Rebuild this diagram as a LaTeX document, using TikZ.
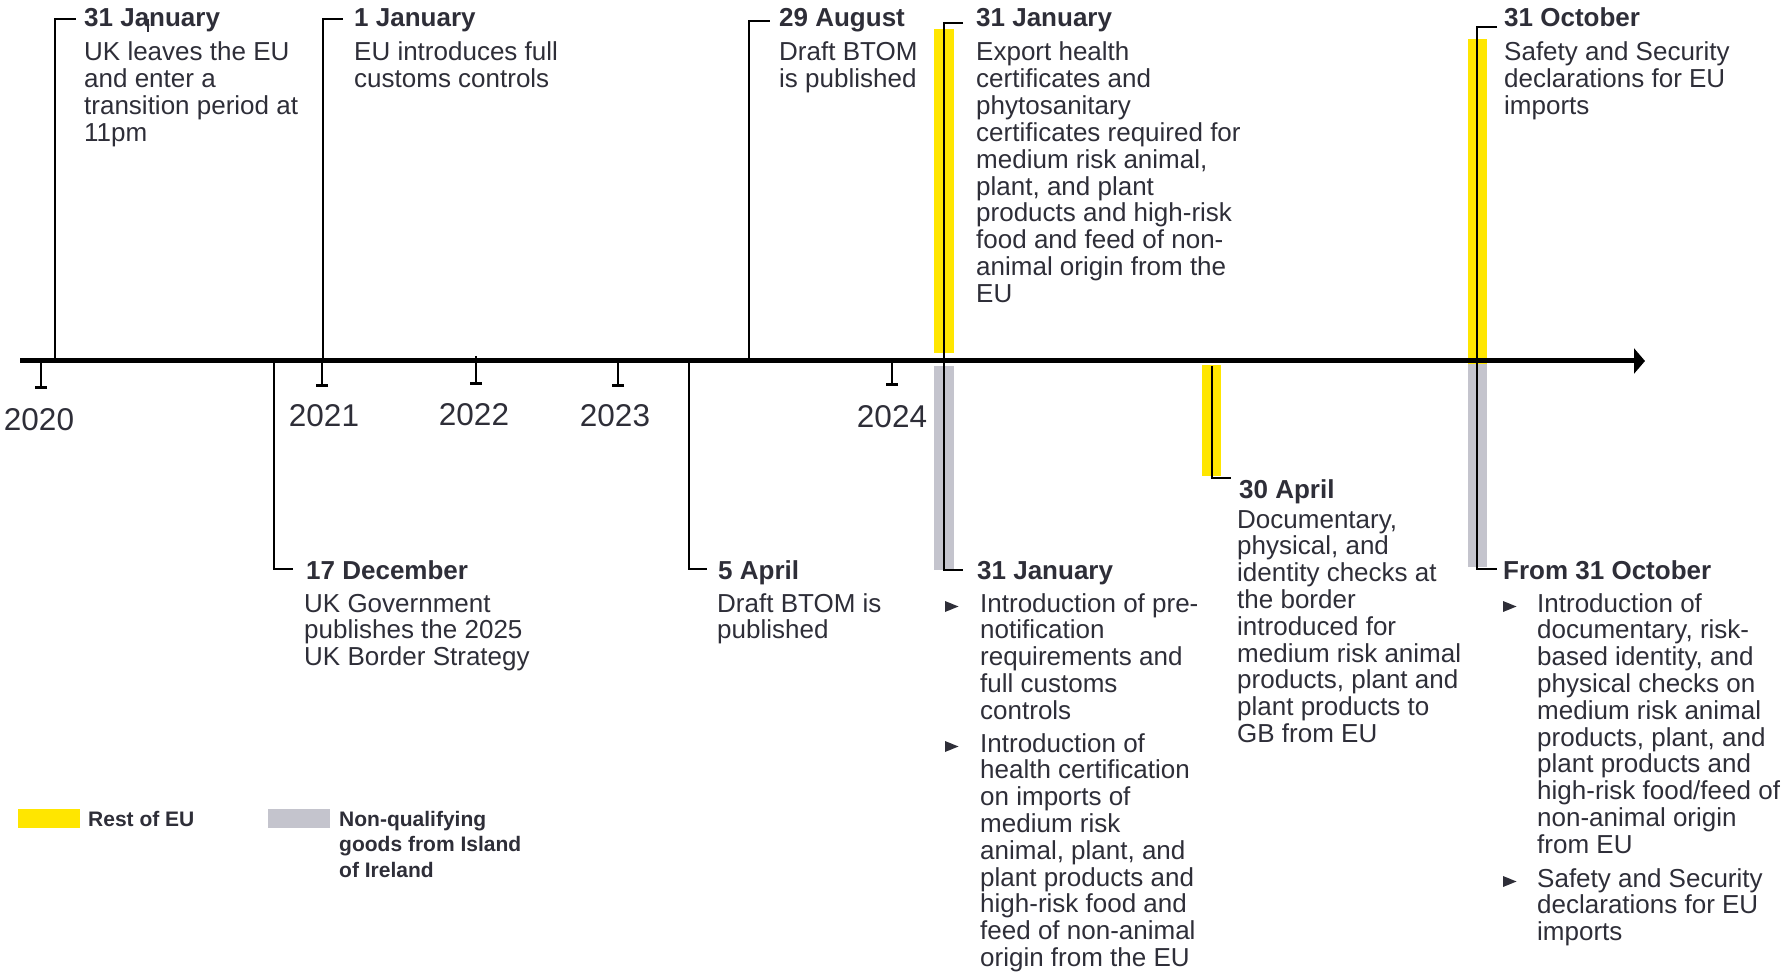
\documentclass[tikz,border=0pt]{standalone}
\usepackage{fontspec}
\setmainfont{Liberation Sans}
\usetikzlibrary{arrows.meta}

\definecolor{eyyellow}{HTML}{FFE600}
\definecolor{eygrey}{HTML}{C4C4CD}
\definecolor{ink}{HTML}{2E2E38}

% stacked lines whose baseline is the baseline of the first line
\newcommand{\txtlines}[1]{\begin{tabular}[t]{@{}l@{}}#1\end{tabular}}
% small right-pointing bullet, bottom corner on the given baseline
\newcommand{\bullettri}[2]{\fill[ink] (#1,#2) -- ++(13.5,-5.5) -- ++(-13.5,-5.5) -- cycle;}

\tikzset{
  body/.style={anchor=base west, inner sep=0pt, text=ink, font=\fontsize{26}{26.6}\selectfont},
  head/.style={anchor=base west, inner sep=0pt, text=ink, font=\fontsize{26}{26.6}\selectfont\bfseries},
  yearlbl/.style={anchor=base, inner sep=0pt, text=ink, font=\fontsize{31.5}{36}\selectfont},
  legendtxt/.style={anchor=base west, inner sep=0pt, text=ink, font=\fontsize{21}{25.5}\selectfont\bfseries},
  link/.style={draw=black, line width=2.5pt},
  tickmark/.style={draw=black, line width=2.5pt, -{Bar[width=12pt]}},
  axisline/.style={draw=black, line width=5pt, -{Triangle[length=11pt,width=25pt]}},
  eu/.style={fill=eyyellow},
  ni/.style={fill=eygrey},
}

\begin{document}
\begin{tikzpicture}[x=1pt, y=-1pt]
\useasboundingbox (0,0) rectangle (1791,973);

% ---- coloured bars ----
\fill[eu] (934,29) rectangle (954,353);
\fill[ni] (934,366) rectangle (954,570);
\fill[eu] (1202,365) rectangle (1221,476);
\fill[eu] (1468,39) rectangle (1487,364);
\fill[ni] (1468,364) rectangle (1487,567);

% ---- axis coordinates ----
\coordinate (axL) at (20,361);
\coordinate (axR) at (1645,361);

% ---- event connectors ----
\coordinate (e1a) at (55,361);   \coordinate (e1c) at (55,19);   \coordinate (e1s) at (76,19);
\coordinate (e2a) at (323,361);  \coordinate (e2c) at (323,19);  \coordinate (e2s) at (343,19);
\coordinate (e3a) at (749,361);  \coordinate (e3c) at (749,21);  \coordinate (e3s) at (770,21);
\coordinate (e4t) at (944,23);   \coordinate (e4ts) at (963,23);
\coordinate (e4b) at (944,570);  \coordinate (e4bs) at (963,570);
\coordinate (e5a) at (1212,366); \coordinate (e5c) at (1212,478); \coordinate (e5s) at (1231,478);
\coordinate (e6t) at (1477,27);  \coordinate (e6ts) at (1497,27);
\coordinate (e6b) at (1477,569); \coordinate (e6bs) at (1497,569);
\coordinate (b1a) at (274,361);  \coordinate (b1c) at (274,569); \coordinate (b1s) at (293,569);
\coordinate (b2a) at (689,361);  \coordinate (b2c) at (689,569); \coordinate (b2s) at (707,569);

\draw[link] (e1a) -- (e1c) -- (e1s);
\draw[link] (e2a) -- (e2c) -- (e2s);
\draw[link] (e3a) -- (e3c) -- (e3s);
\draw[link] (e4ts) -- (e4t) -- (e4b) -- (e4bs);
\draw[link] (e5a) -- (e5c) -- (e5s);
\draw[link] (e6ts) -- (e6t) -- (e6b) -- (e6bs);
\draw[link] (b1a) -- (b1c) -- (b1s);
\draw[link] (b2a) -- (b2c) -- (b2s);

% ---- time axis ----
\draw[axisline] (axL) -- (axR);

% ---- year ticks ----
\coordinate (t20) at (41,361);  \coordinate (t20e) at (41,389);
\coordinate (t21) at (322,361); \coordinate (t21e) at (322,387);
\coordinate (t22) at (476,356); \coordinate (t22e) at (476,385);
\coordinate (t23) at (618,361); \coordinate (t23e) at (618,387);
\coordinate (t24) at (892,361); \coordinate (t24e) at (892,386);
\draw[tickmark] (t20) -- (t20e);
\draw[tickmark] (t21) -- (t21e);
\draw[tickmark] (t22) -- (t22e);
\draw[tickmark] (t23) -- (t23e);
\draw[tickmark] (t24) -- (t24e);

\node[yearlbl] (y20) at (39,430) {2020};
\node[yearlbl] (y21) at (324,426) {2021};
\node[yearlbl] (y22) at (474,425) {2022};
\node[yearlbl] (y23) at (615,427) {2023};
\node[yearlbl] (y24) at (892,428) {2024};

% ---- events above the axis ----
\node[head] (h1) at (84,27) {31 January};
\draw[ink, line width=1.5pt] (148,19) -- (148,32);
\node[body] (t1) at (84,61) {\txtlines{UK leaves the EU\\and enter a\\transition period at\\11pm}};

\node[head] (h2) at (354,27) {1 January};
\node[body] (t2) at (354,61) {\txtlines{EU introduces full\\customs controls}};

\node[head] (h3) at (779,27) {29 August};
\node[body] (t3) at (779,61) {\txtlines{Draft BTOM\\is published}};

\node[head] (h4) at (976,27) {31 January};
\node[body] (t4) at (976,61) {\txtlines{Export health\\certificates and\\phytosanitary\\certificates required for\\medium risk animal,\\plant, and plant\\products and high-risk\\food and feed of non-\\animal origin from the\\EU}};

\node[head] (h5) at (1504,27) {31 October};
\node[body] (t5) at (1504,61) {\txtlines{Safety and Security\\declarations for EU\\imports}};

% ---- events below the axis ----
\node[head] (h6) at (306,579) {17 December};
\node[body] (t6) at (304,612) {\txtlines{UK Government\\publishes the 2025\\UK Border Strategy}};

\node[head] (h7) at (718,579) {5 April};
\node[body] (t7) at (717,612) {\txtlines{Draft BTOM is\\published}};

\node[head] (h8) at (977,579) {31 January};
\bullettri{945}{612}
\node[body] (t8a) at (980,612) {\txtlines{Introduction of pre-\\notification\\requirements and\\full customs\\controls}};
\bullettri{945}{752}
\node[body] (t8b) at (980,752) {\txtlines{Introduction of\\health certification\\on imports of\\medium risk\\animal, plant, and\\plant products and\\high-risk food and\\feed of non-animal\\origin from the EU}};

\node[head] (h9) at (1239,498) {30 April};
\node[body] (t9) at (1237,528) {\txtlines{Documentary,\\physical, and\\identity checks at\\the border\\introduced for\\medium risk animal\\products, plant and\\plant products to\\GB from EU}};

\node[head] (h10) at (1503,579) {From 31 October};
\bullettri{1503}{612}
\node[body] (t10a) at (1537,612) {\txtlines{Introduction of\\documentary, risk-\\based identity, and\\physical checks on\\medium risk animal\\products, plant, and\\plant products and\\high-risk food/feed of\\non-animal origin\\from EU}};
\bullettri{1503}{887}
\node[body] (t10b) at (1537,887) {\txtlines{Safety and Security\\declarations for EU\\imports}};

% ---- legend ----
\fill[eu] (18,809) rectangle (80,828);
\node[legendtxt] (lg1) at (88,826) {Rest of EU};
\fill[ni] (268,809) rectangle (330,828);
\node[legendtxt] (lg2) at (339,826) {\txtlines{Non-qualifying\\goods from Island\\of Ireland}};

\end{tikzpicture}
\end{document}
